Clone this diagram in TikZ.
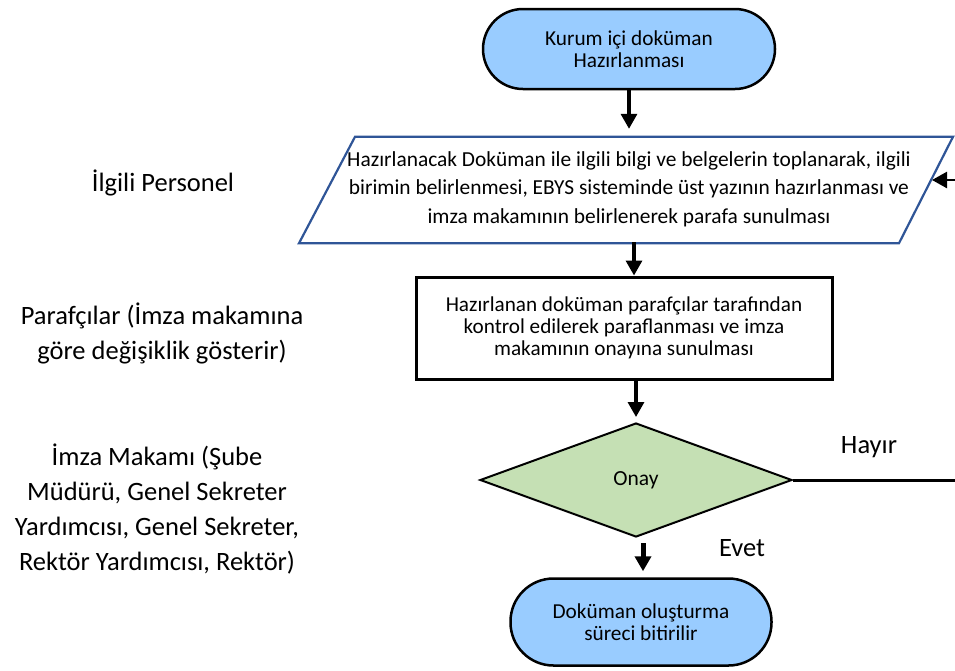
\documentclass[tikz,border=0pt]{standalone}
\usepackage{fontspec}
\setmainfont{Carlito}
\usetikzlibrary{arrows.meta,shapes.geometric}

\definecolor{acikmavi}{HTML}{99CCFF}
\definecolor{acikyesil}{HTML}{C5E0B4}
\definecolor{koyumavi}{HTML}{2F5597}

\tikzset{
  uc/.style={rectangle, draw, line width=2.5pt, fill=acikmavi, align=center,
    font=\fontsize{21.3}{22}\selectfont},
  girdi/.style={rectangle, minimum width=600pt, minimum height=106pt,
    align=center, font=\fontsize{21.4}{28.3}\selectfont},
  kenar/.style={draw=koyumavi, line width=2.2pt, line join=miter},
  islem/.style={rectangle, draw, line width=3pt, fill=white, minimum width=416pt,
    minimum height=102pt, align=center, font=\fontsize{21.2}{21.7}\selectfont},
  karar/.style={diamond, draw, line width=2pt, fill=acikyesil, minimum width=312pt,
    minimum height=114pt, inner sep=0pt, font=\fontsize{21.5}{22}\selectfont},
  rol/.style={align=center, font=\fontsize{26.5}{35}\selectfont},
  etiket/.style={font=\fontsize{26.5}{32}\selectfont},
  ok/.style={-{Triangle[width=16pt,length=15pt]}, line width=3.3pt},
}

\begin{document}
\begin{tikzpicture}[x=1pt,y=-1pt]

\useasboundingbox (0,0) rectangle (955,670);

% akis kutulari
\node[uc, minimum width=292pt, minimum height=80pt, rounded corners=40pt] (basla) at (629,49)
  {Kurum içi doküman\\Hazırlanması};
\node[girdi] (hazirla) at (629,189)
  {Hazırlanacak Doküman ile ilgili bilgi ve belgelerin toplanarak, ilgili\\
   birimin belirlenmesi, EBYS sisteminde üst yazının hazırlanması ve\\
   imza makamının belirlenerek parafa sunulması};
\draw[kenar] ([xshift=-274pt,yshift=-1pt]hazirla.north) -- ([xshift=324pt,yshift=-1pt]hazirla.north)
  -- ([xshift=270pt,yshift=-1pt]hazirla.south) -- ([xshift=-330pt,yshift=-1pt]hazirla.south) -- cycle;
\node[islem] (paraf) at (624,328)
  {Hazırlanan doküman parafçılar tarafından\\
   kontrol edilerek paraflanması ve imza\\
   makamının onayına sunulması};
\node[karar] (onay) at (636,480) {Onay};
\node[uc, minimum width=261pt, minimum height=87pt, rounded corners=43pt] (bitir) at (641,622)
  {Doküman oluşturma\\süreci bitirilir};

% sorumlular
\node[rol] (personel) at (163,183) {İlgili Personel};
\node[rol] (parafcilar) at (162,333) {Parafçılar (İmza makamına\\göre değişiklik gösterir)};
\node[rol] (makam) at (157,509) {İmza Makamı (Şube\\Müdürü, Genel Sekreter\\Yardımcısı, Genel Sekreter,\\Rektör Yardımcısı, Rektör)};

% oklar
\draw[ok, shorten >=7pt] (basla.south -| 629,0) -- (hazirla.north -| 629,0);
\draw[ok] (hazirla.south -| 634,0) -- (paraf.north -| 634,0);
\draw[ok, shorten >=5pt] (paraf.south -| 636,0) -- (onay);
\draw[ok, line width=5pt, shorten <=5pt, shorten >=6pt] (onay.south -| 643,0) -- (bitir.north -| 643,0);

% hayir dali
\coordinate (kesik1) at (955,480);
\coordinate (kesik2) at (955,180);
\coordinate (girdisag) at (932,180);
\draw[line width=3pt] (onay.east) -- (kesik1);
\draw[ok, line width=2.5pt] (kesik2) -- (girdisag);

\node[etiket] (hayir) at (869,447) {Hayır};
\node[etiket] (evet) at (742,548) {Evet};

\end{tikzpicture}
\end{document}
